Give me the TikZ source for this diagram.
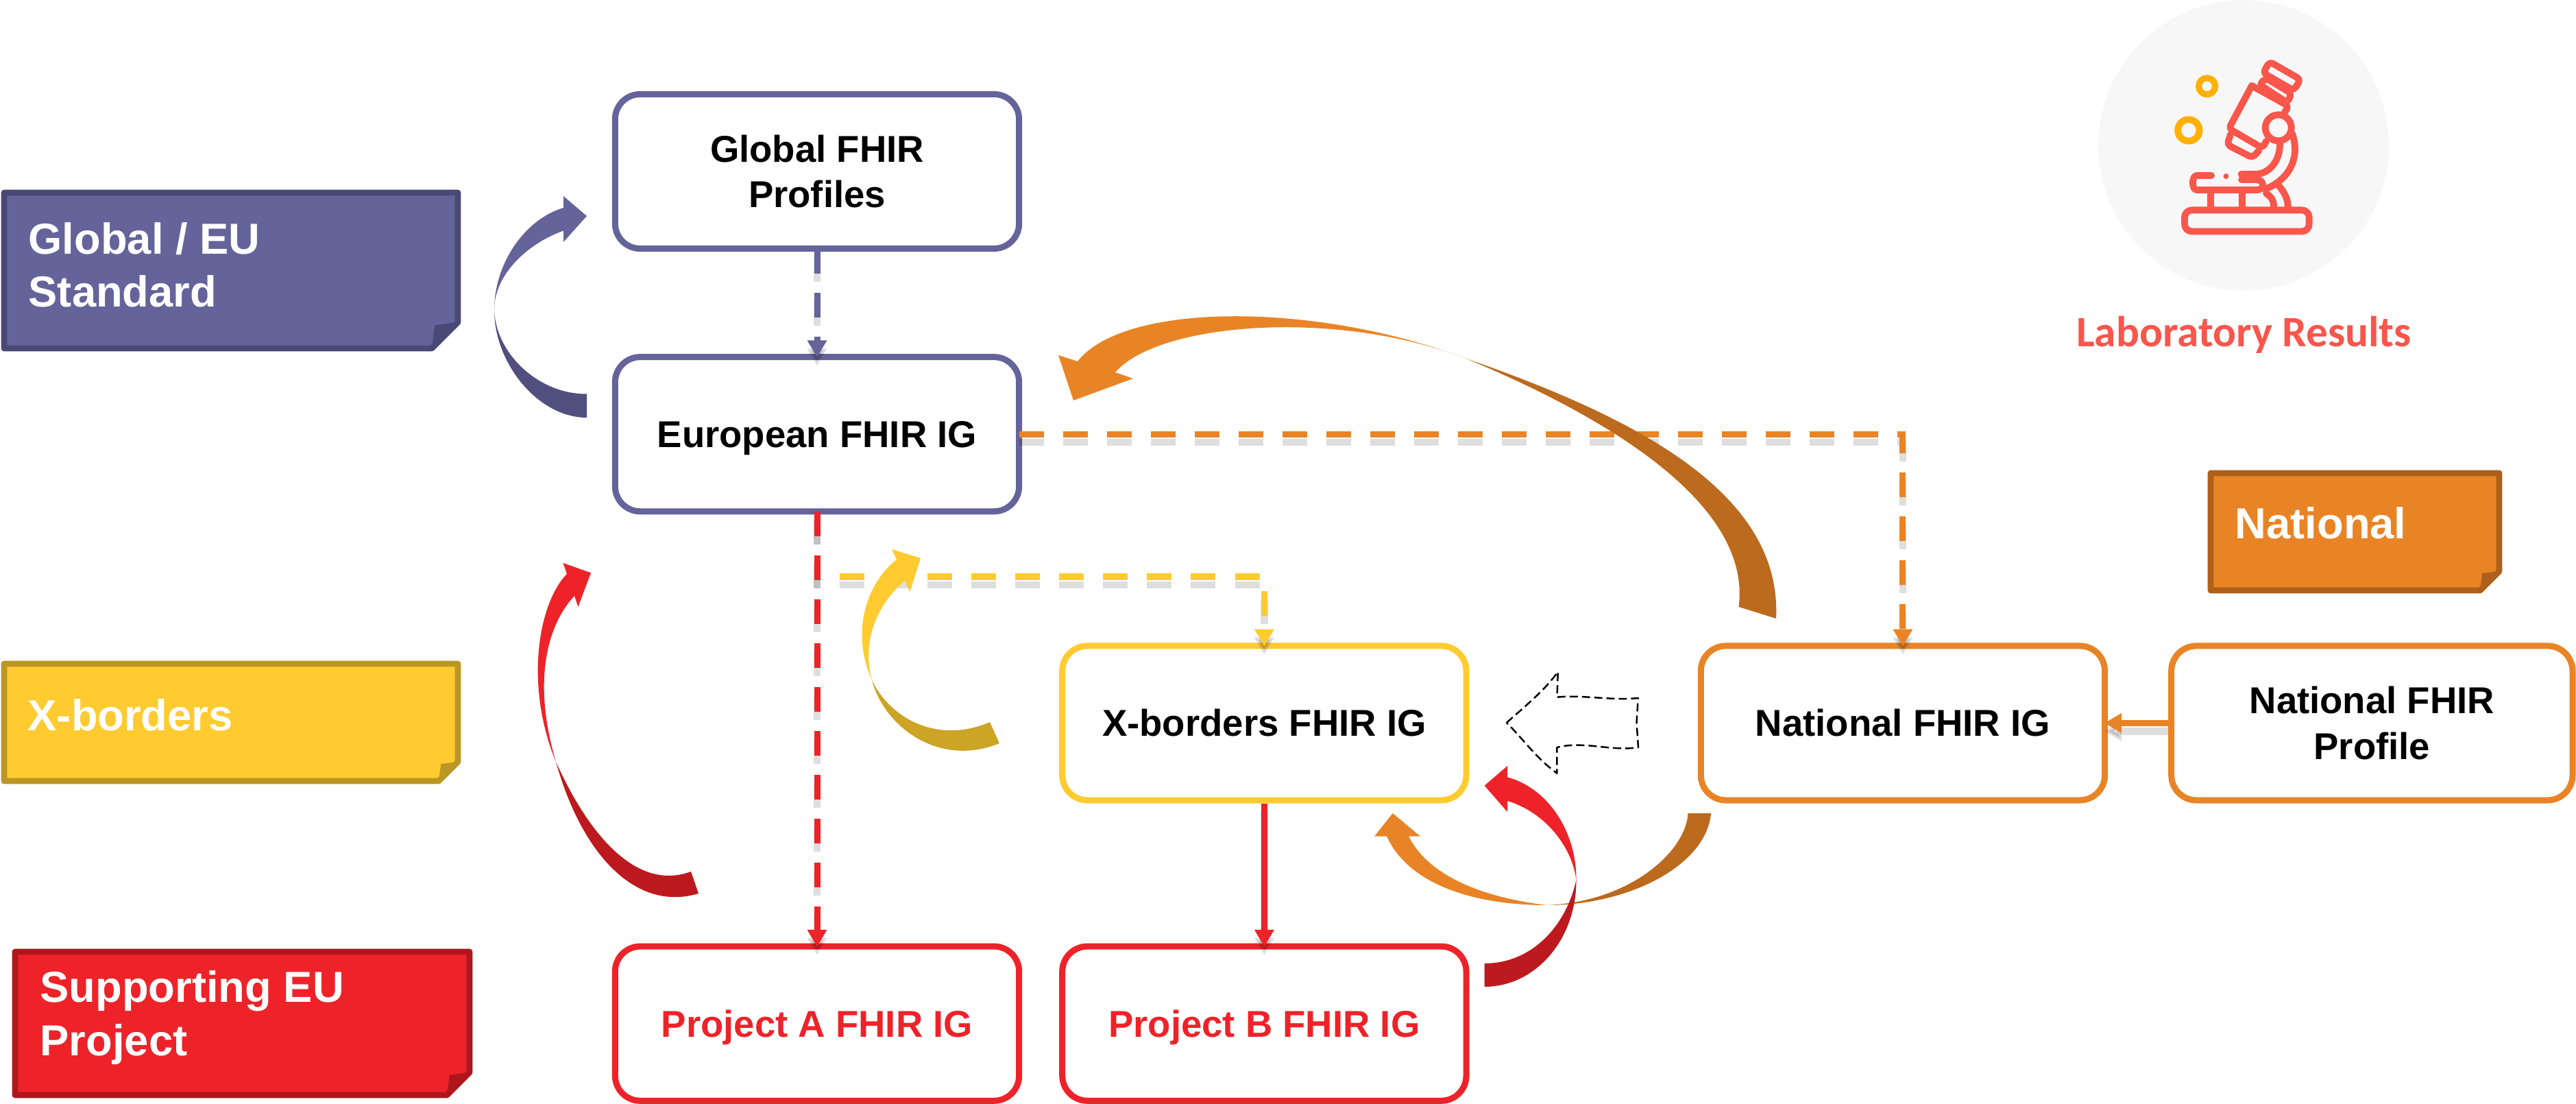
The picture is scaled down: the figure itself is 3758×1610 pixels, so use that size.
\documentclass[tikz,border=0pt]{standalone}
\usepackage[rgb]{xcolor}
\usepackage{fontspec}
\setmainfont{Liberation Sans}
\newfontfamily\labfont{Carlito}
\usetikzlibrary{positioning,arrows.meta}
\definecolor{purplec}{HTML}{64639A}
\definecolor{purpled}{HTML}{4A4975}
\definecolor{purplet}{HTML}{514F7E}
\definecolor{orangec}{HTML}{E98426}
\definecolor{oranged}{HTML}{AE5F19}
\definecolor{oranget}{HTML}{BC6A1E}
\definecolor{yellowc}{HTML}{FFCB31}
\definecolor{yellowd}{HTML}{BC9622}
\definecolor{yellowt}{HTML}{CCA426}
\definecolor{redc}{HTML}{ED2329}
\definecolor{redd}{HTML}{AF161C}
\definecolor{redt}{HTML}{BC1A1E}
\definecolor{iconred}{HTML}{F9564C}
\definecolor{iconyellow}{HTML}{FFB000}
\definecolor{icongray}{HTML}{F7F7F7}
\newcommand{\capstrut}{\rule[-3.5pt]{0pt}{18.1pt}}
\newcommand{\stickynote}[7]{%
    \filldraw[fill=#6,draw=#7,line width=2.5pt,line join=round]
    ({#1+4},{#2+4}) -- ({#3-4},{#2+4}) -- ({#3-4},{#4-#5}) -- ({#3-#5},{#4-4}) -- ({#1+4},{#4-4}) -- cycle;
    \fill[#7] ({#3-4},{#4-#5}) -- ({#3-0.9*#5},{#4-0.9*#5}) -- ({#3-#5},{#4-4}) -- cycle;
}
\tikzset{igbox/.style={rectangle,rounded corners=10.4pt,draw=#1,line width=2.56pt,fill=white,
                minimum width=5.89cm,minimum height=2.25cm,inner sep=0pt,align=center,
                font=\bfseries\fontsize{15.5}{18.8}\selectfont},
            notetext/.style={anchor=base west,inner sep=0pt,align=left,text=white,
                font=\bfseries\fontsize{18}{21.9}\selectfont},
            conn/.style={line width=2.56pt,-{Triangle[length=7pt,width=7.7pt]},shorten >=-1.4pt},
            dashconn/.style={conn,shorten <=-1.2pt,dash pattern=on 10.24pt off 7.97pt},
            connshadow/.style={conn,draw=black,opacity=.13,line width=3pt,transform canvas={yshift=-3.4pt}},
            dashshadow/.style={connshadow,shorten <=-1.2pt,dash pattern=on 10.24pt off 7.97pt},
            iconline/.style={draw=iconred,line width=2.8pt,line join=round,line cap=round,rounded corners=1.5pt},
            }

\begin{document}
\begin{tikzpicture}[x=0.01cm,y=-0.01cm]
    \useasboundingbox (0,0) rectangle (3758,1610);

    % side notes
    \stickynote{2}{277}{672}{512}{42}{purplec}{purpled}
    \stickynote{2}{964}{672}{1143}{32}{yellowc}{yellowd}
    \stickynote{18}{1384}{689}{1601}{37}{redc}{redd}
    \stickynote{3221}{686}{3650}{865}{32}{orangec}{oranged}
    \node[notetext] (noteglobal) at (41,448) {Global / EU\\Standard};
    \node[notetext] (notexb) at (40,1065) {X-borders};
    \node[notetext] (notesupport) at (58,1539) {Supporting EU\\Project};
    \node[notetext] (notenational) at (3260,786) {National};

    % boxes
    \node[igbox=purplec] (global) at (1192,250) {Global FHIR\capstrut\\Profiles\capstrut};
    \node[igbox=purplec] (european) [below = 1.49cm of global] {European FHIR IG\capstrut};
    \node[igbox=redc,text=redc] (projecta) [below = 6.25cm of european] {Project A FHIR IG\capstrut};
    \node[igbox=redc,text=redc] (projectb) [right = 0.54cm of projecta] {Project B FHIR IG\capstrut};
    \node[igbox=yellowc] (xborder) [above = 2.04cm of projectb] {X-borders FHIR IG\capstrut};
    \node[igbox=orangec] (national) [right = 3.33cm of xborder] {National FHIR IG\capstrut};
    \node[igbox=orangec,minimum width=5.85cm] (profile) [right = 0.88cm of national] {National FHIR\capstrut\\Profile\capstrut};

    % connectors
    \coordinate (ybend) at (1192,841);
    \draw[dashshadow] (global) -- (european);
    \draw[dashshadow] (european.south) -- (ybend) -| (xborder.north);
    \draw[dashshadow] (european) -- (projecta);
    \draw[dashshadow] (european.east) -| (national.north);
    \draw[connshadow] (xborder) -- (projectb);
    \draw[connshadow] (profile) -- (national);
    \draw[dashconn,draw=purplec] (global) -- (european);
    \draw[dashconn,draw=yellowc] (european.south) -- (ybend) -| (xborder.north);
    \draw[dashconn,draw=redc] (european) -- (projecta);
    \draw[dashconn,draw=orangec] (european.east) -| (national.north);
    \draw[conn,draw=redc] (xborder) -- (projectb);
    \draw[conn,draw=orangec] (profile) -- (national);

    % curved arrows, top left
    \fill[purplet] (721,452) .. controls (721,530) and (785,609) .. (856,609) -- (856,574.5)
        .. controls (785,575) and (723,515) .. (721,452) -- cycle;
    \fill[purplec] (721,452) .. controls (721,385) and (765,320) .. (822,303) -- (822,286) -- (856,315) -- (822,353) -- (822,336.5)
        .. controls (770,355) and (721,400) .. (721,452) -- cycle;

    % big orange one
    \fill[oranget] (2139,523) .. controls (2390,610) and (2600,720) .. (2591,902) -- (2536.5,885)
        .. controls (2555,740) and (2360,615) .. (2139,523) -- cycle;
    \fill[orangec] (2139,523) .. controls (1920,440) and (1640,440) .. (1572,527) -- (1544,518) -- (1566,584) -- (1653,552) -- (1627,543)
        .. controls (1690,470) and (1950,450) .. (2139,523) -- cycle;

    % yellow one
    \fill[yellowt] (1272,992) .. controls (1290,1060) and (1370,1120) .. (1458,1084) -- (1444,1053)
        .. controls (1370,1085) and (1300,1050) .. (1272,992) -- cycle;
    \fill[yellowc] (1272,992) .. controls (1240,920) and (1265,850) .. (1308,816) -- (1301,801) -- (1343,814) -- (1327.5,863) -- (1320,847)
        .. controls (1275,885) and (1258,940) .. (1272,992) -- cycle;

    % red one on the left
    \fill[redt] (811,1111) .. controls (850,1250) and (930,1330) .. (1019,1303) -- (1008,1271)
        .. controls (930,1300) and (860,1220) .. (811,1111) -- cycle;
    \fill[redc] (811,1111) .. controls (765,1000) and (785,880) .. (827,837) -- (821.4,821) -- (862,835.4) -- (843.4,885) -- (838,869)
        .. controls (795,915) and (778,1000) .. (811,1111) -- cycle;

    % lower orange one
    \fill[oranget] (2257,1320) .. controls (2380,1320) and (2490,1260) .. (2496,1186) -- (2462.5,1186)
        .. controls (2460,1240) and (2380,1315) .. (2257,1320) -- cycle;
    \fill[orangec] (2257,1320) .. controls (2150,1320) and (2055,1290) .. (2023,1219.6) -- (2005,1219.6) -- (2031.7,1186) -- (2072,1219.6) -- (2055,1219.6)
        .. controls (2085,1280) and (2170,1310) .. (2257,1320) -- cycle;

    % lower red one
    \fill[redt] (2299.5,1283) .. controls (2300,1370) and (2240,1439) .. (2165.6,1439) -- (2165.6,1405)
        .. controls (2235,1405) and (2285,1350) .. (2299.5,1283) -- cycle;
    \fill[redc] (2299.5,1283) .. controls (2300,1215) and (2260,1150) .. (2199,1133.4) -- (2199,1117) -- (2165.6,1145.7) -- (2199,1184) -- (2199,1168)
        .. controls (2255,1185) and (2293,1235) .. (2299.5,1283) -- cycle;

    % dashed outline arrow
    \draw[black,line width=0.7pt,dash pattern=on 3.4pt off 1.7pt,line join=round]
        (2197.8,1054) .. controls (2225,1030) and (2255,1005) .. (2272.8,979.6) -- (2271.4,1016.7)
        .. controls (2310,1013) and (2350,1022) .. (2389.7,1018) -- (2387.5,1054) -- (2390,1090)
        .. controls (2350,1096) and (2310,1080) .. (2271.4,1090) -- (2271.4,1127.7)
        .. controls (2240,1105) and (2220,1075) .. (2197.8,1054) -- cycle;

    % lab icon
    \fill[icongray] (3273,212) circle (212);
    \draw[draw=iconyellow,line width=2.6pt] (3219.6,125.7) circle (12);
    \draw[draw=iconyellow,line width=2.8pt] (3192.8,190) circle (15.7);
    \draw[iconline] (3311,90) -- (3356,116) -- (3346,132) -- (3301.5,106.4) -- cycle;
    \draw[iconline] (3305.7,114) -- (3343,136.4) -- (3336.6,150) -- (3296,123) -- cycle;
    \draw[iconline] (3285,125) -- (3339,155) -- (3332,165);
    \draw[iconline] (3285,125) -- (3251.5,187.5) -- (3300.5,216) -- (3306,206);
    \draw[iconline] (3254,196) -- (3249,211) -- (3286,230) -- (3295,220);
    \draw[iconline] (3323.7,186.4) circle (19);
    \draw[iconline] (3344,195) .. controls (3356,230) and (3340,262) .. (3304,276);
    \draw[iconline] (3326,210) .. controls (3326,235) and (3310,254) .. (3285,254) -- (3269.6,254);
    \draw[iconline] (3226,256) -- (3210,256) .. controls (3197,256) and (3197,277) .. (3210,277) -- (3298,277) .. controls (3302,270) and (3300,264) .. (3292,262) -- (3270,262);
    \fill[iconred] (3247.4,257) circle (4);
    \draw[iconline] (3224.7,282) -- (3224.7,302);
    \draw[iconline] (3270.6,282) -- (3270.6,302);
    \draw[iconline] (3306,282) .. controls (3314,288) and (3317,292) .. (3317,302);
    \draw[iconline] (3323.7,270) .. controls (3334,282) and (3338,292) .. (3337.6,302);
    \draw[iconline,rounded corners=3pt] (3187,337.5) -- (3187,306.4) -- (3368.6,306.4) -- (3368.6,337.5) -- cycle;
    \node[text=iconred,inner sep=0pt,anchor=base] (labresults) at (3273.5,506) {\labfont\bfseries\fontsize{18}{20}\selectfont Laboratory Results};
\end{tikzpicture}
\end{document}
